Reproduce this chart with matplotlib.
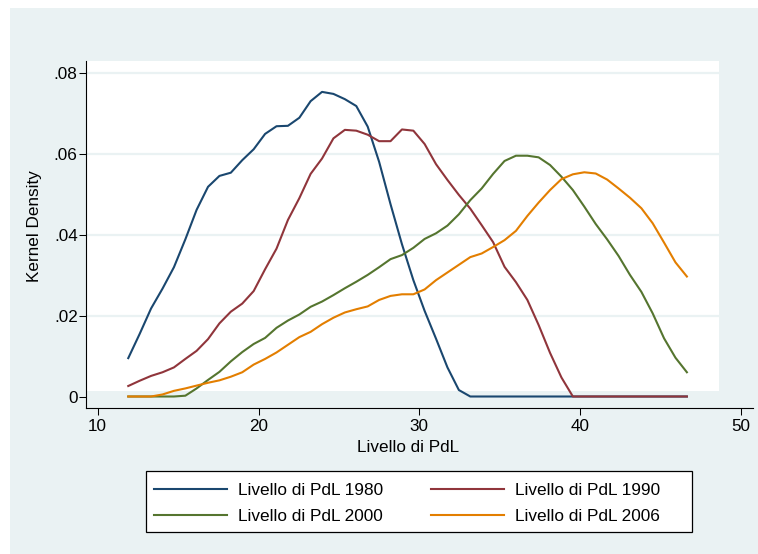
import matplotlib
matplotlib.use("Agg")
import matplotlib.pyplot as plt
from matplotlib.patches import Rectangle

# kdensity evaluation grid (50 points) and densities per year
livello = [11.90, 12.61, 13.32, 14.03, 14.74, 15.45, 16.15, 16.86, 17.57, 18.28,
	18.99, 19.70, 20.41, 21.12, 21.83, 22.54, 23.24, 23.95, 24.66, 25.37,
	26.08, 26.79, 27.50, 28.21, 28.92, 29.63, 30.33, 31.04, 31.75, 32.46,
	33.17, 33.88, 34.59, 35.30, 36.01, 36.72, 37.42, 38.13, 38.84, 39.55,
	40.26, 40.97, 41.68, 42.39, 43.10, 43.81, 44.51, 45.22, 45.93, 46.64]

dens_1980 = [0.0095, 0.0155, 0.0218, 0.0267, 0.0320, 0.0389, 0.0462, 0.0519, 0.0546, 0.0554,
	0.0585, 0.0612, 0.0650, 0.0669, 0.0670, 0.0690, 0.0731, 0.0754, 0.0749, 0.0736,
	0.0719, 0.0668, 0.0581, 0.0476, 0.0377, 0.0288, 0.0212, 0.0143, 0.0072, 0.0016,
	0, 0, 0, 0, 0, 0, 0, 0, 0, 0,
	0, 0, 0, 0, 0, 0, 0, 0, 0, 0]

dens_1990 = [0.0026, 0.0039, 0.0051, 0.0060, 0.0072, 0.0093, 0.0113, 0.0142, 0.0181, 0.0210,
	0.0230, 0.0261, 0.0315, 0.0366, 0.0437, 0.0491, 0.0551, 0.0589, 0.0639, 0.0660,
	0.0658, 0.0648, 0.0632, 0.0632, 0.0661, 0.0658, 0.0625, 0.0575, 0.0536, 0.0499,
	0.0465, 0.0424, 0.0382, 0.0321, 0.0283, 0.0239, 0.0177, 0.0108, 0.0047, 0,
	0, 0, 0, 0, 0, 0, 0, 0, 0, 0]

dens_2000 = [0, 0, 0, 0, 0, 0.0002, 0.0020, 0.0041, 0.0061, 0.0087,
	0.0110, 0.0130, 0.0145, 0.0170, 0.0188, 0.0203, 0.0222, 0.0235, 0.0251, 0.0268,
	0.0284, 0.0301, 0.0320, 0.0340, 0.0350, 0.0368, 0.0390, 0.0404, 0.0423, 0.0451,
	0.0486, 0.0515, 0.0551, 0.0583, 0.0596, 0.0596, 0.0592, 0.0573, 0.0544, 0.0511,
	0.0470, 0.0427, 0.0389, 0.0348, 0.0301, 0.0259, 0.0206, 0.0144, 0.0096, 0.0060]

dens_2006 = [0, 0, 0, 0.0005, 0.0014, 0.0020, 0.0027, 0.0034, 0.0040, 0.0049,
	0.0060, 0.0079, 0.0093, 0.0109, 0.0128, 0.0147, 0.0160, 0.0179, 0.0195, 0.0208,
	0.0216, 0.0223, 0.0239, 0.0249, 0.0253, 0.0253, 0.0265, 0.0288, 0.0307, 0.0326,
	0.0345, 0.0354, 0.0370, 0.0387, 0.0410, 0.0447, 0.0480, 0.0511, 0.0538, 0.0550,
	0.0555, 0.0552, 0.0537, 0.0515, 0.0492, 0.0466, 0.0429, 0.0381, 0.0332, 0.0297]

series_labels = ["Livello di PdL 1980", "Livello di PdL 1990", "Livello di PdL 2000", "Livello di PdL 2006"]
x_ticks = [10, 20, 30, 40, 50]
y_ticks = [0, 0.02, 0.04, 0.06, 0.08]
y_tick_labels = ["0", ".02", ".04", ".06", ".08"]

# stata s2color look
BG = "#eaf2f3"
COLORS = ["#1a476f", "#90353b", "#55752f", "#e37e00"]
FONT = 12.3

W, H = 758, 554
plt.rcParams['font.family'] = ['Liberation Sans', 'DejaVu Sans']

fig = plt.figure(figsize=(W / 100, H / 100), dpi=100, facecolor="white")
fig.patches.append(Rectangle((10 / W, 0), 1 - 10 / W, 1 - 8 / H, transform=fig.transFigure,
	facecolor=BG, edgecolor="none", zorder=-1))

ax = fig.add_axes([86 / W, 1 - 408.3 / H, 666.7 / W, 347 / H])
ax.set_facecolor(BG)
ax.set_xlim(9.272, 50.733)
ax.set_ylim(-0.00292, 0.08297)

# white plot region sits inside the axis lines
ax.add_patch(Rectangle((9.272, 0.00136), 48.657 - 9.272, 0.08297 - 0.00136,
	facecolor="white", edgecolor="none", zorder=0.1))

ax.set_axisbelow(True)
ax.yaxis.grid(True, color=BG, linewidth=1.6)
ax.xaxis.grid(False)

data = [dens_1980, dens_1990, dens_2000, dens_2006]
handles = []
for dens, color, label in zip(data, COLORS, series_labels):
	line, = ax.plot(livello, dens, color=color, linewidth=1.5, label=label, zorder=2)
	handles.append(line)

for side in ["top", "right"]:
	ax.spines[side].set_visible(False)
for side in ["left", "bottom"]:
	ax.spines[side].set_linewidth(0.8)

ax.set_xticks(x_ticks)
ax.set_yticks(y_ticks)
ax.set_yticklabels(y_tick_labels)
ax.tick_params(axis="both", direction="out", length=5, width=0.75, labelsize=FONT, colors="black")
ax.tick_params(axis="x", pad=3)
ax.tick_params(axis="y", pad=1)

ax.set_xlabel("Livello di PdL", fontsize=FONT)
ax.set_ylabel("Kernel Density", fontsize=FONT)
ax.xaxis.set_label_coords((408 - 86) / 666.7, -(447 - 408.3) / 347)
ax.yaxis.set_label_coords(-(86 - 35) / 666.7, (408.3 - 226) / 347)
ax.xaxis.label.set_va("center")
ax.yaxis.label.set_va("center")

# legend box (stata pads the right side more than matplotlib does)
fig.patches.append(Rectangle((146 / W, 1 - 532.3 / H), 546 / W, 61.6 / H, transform=fig.transFigure,
	facecolor="white", edgecolor="black", linewidth=0.9, zorder=1))
# matplotlib fills columns first, stata fills rows first
order = [0, 2, 1, 3]
fig.legend([handles[i] for i in order], [series_labels[i] for i in order],
	loc="upper left", bbox_to_anchor=(146 / W, 1 - 474.7 / H), ncol=2, frameon=False,
	fontsize=12.4, handlelength=4.24, handletextpad=0.64, columnspacing=2.77,
	borderpad=0.47, labelspacing=0.64, borderaxespad=0)

fig.savefig("out.png", dpi=100, facecolor="white")
